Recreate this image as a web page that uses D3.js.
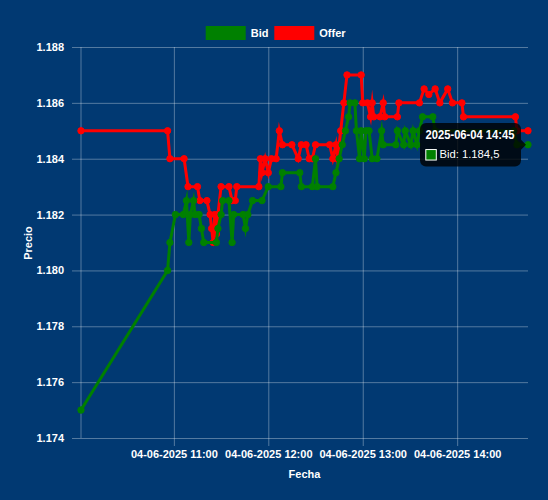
<!DOCTYPE html>
<html><head><meta charset="utf-8">
<script src="https://cdn.jsdelivr.net/npm/d3@7"></script>
<style>html,body{margin:0;padding:0;background:#013972;overflow:hidden}</style>
</head><body><svg id="c" width="548" height="500"></svg>
<script>
const dateStr = "2025-06-04";
const seriesNames = ["Bid", "Offer"];
const seriesColors = ["#008000", "#ff0000"];
const bidTimes = ["10:01:00","10:56:00","10:57:30","11:01:00","11:06:00","11:08:00","11:09:30","11:10:30","11:12:30","11:13:30","11:16:00","11:17:30","11:19:00","11:27:00","11:28:00","11:30:00","11:31:00","11:35:00","11:37:00","11:38:00","11:44:00","11:45:30","11:47:00","11:50:00","11:56:00","12:00:00","12:08:00","12:09:00","12:20:00","12:21:00","12:28:00","12:30:00","12:31:00","12:41:00","12:43:00","12:45:00","12:47:00","12:49:00","12:51:00","12:52:00","12:55:00","12:56:00","12:58:00","12:59:00","13:01:00","13:02:00","13:04:00","13:06:00","13:09:00","13:12:00","13:13:00","13:21:00","13:22:00","13:26:00","13:27:00","13:30:30","13:32:00","13:34:30","13:36:00","13:38:00","13:44:30","13:46:00","14:36:00","14:38:00","14:45:00"];
const bidValues = [1.1750,1.1800,1.1810,1.1820,1.1820,1.1825,1.1810,1.1820,1.1825,1.1820,1.1820,1.1815,1.1810,1.1810,1.1815,1.1820,1.1825,1.1825,1.1810,1.1820,1.1820,1.1815,1.1820,1.1825,1.1825,1.1830,1.1830,1.1835,1.1835,1.1830,1.1830,1.1840,1.1830,1.1830,1.1835,1.1840,1.1845,1.1850,1.1855,1.1860,1.1860,1.1850,1.1840,1.1850,1.1840,1.1850,1.1850,1.1840,1.1840,1.1850,1.1845,1.1845,1.1850,1.1845,1.1850,1.1845,1.1850,1.1845,1.1850,1.1855,1.1855,1.1850,1.1850,1.1845,1.1845];
const offerTimes = ["10:01:00","10:56:00","10:57:30","11:06:30","11:09:00","11:15:00","11:16:30","11:21:00","11:23:00","11:24:00","11:25:00","11:26:00","11:27:00","11:28:00","11:30:00","11:35:00","11:37:00","11:39:00","11:40:00","11:54:00","11:55:00","11:56:00","11:58:00","12:00:00","12:02:00","12:05:00","12:07:00","12:09:00","12:15:00","12:19:00","12:21:00","12:24:00","12:26:00","12:28:00","12:30:00","12:39:00","12:41:00","12:43:00","12:44:00","12:46:00","12:48:00","12:50:00","12:59:00","13:00:00","13:03:00","13:05:00","13:06:00","13:07:00","13:11:00","13:13:00","13:14:00","13:22:00","13:23:00","13:36:00","13:39:00","13:42:00","13:46:00","13:49:00","13:54:00","13:57:00","14:03:00","14:04:00","14:37:00","14:38:00","14:45:00"];
const offerValues = [1.1850,1.1850,1.1840,1.1840,1.1830,1.1830,1.1825,1.1825,1.1820,1.1815,1.1810,1.1820,1.1813,1.1820,1.1830,1.1830,1.1825,1.1825,1.1830,1.1830,1.1840,1.1835,1.1840,1.1835,1.1840,1.1840,1.1850,1.1845,1.1845,1.1840,1.1845,1.1845,1.1840,1.1840,1.1845,1.1845,1.1840,1.1845,1.1840,1.1850,1.1860,1.1870,1.1870,1.1860,1.1860,1.1855,1.1860,1.1855,1.1855,1.1860,1.1855,1.1855,1.1860,1.1860,1.1865,1.1863,1.1865,1.1860,1.1865,1.1860,1.1860,1.1855,1.1855,1.1850,1.1850];
const yTickValues = [1.174,1.176,1.178,1.180,1.182,1.184,1.186,1.188];
const xTickHours = ["11:00:00","12:00:00","13:00:00","14:00:00"];
const yTitle = "Precio";
const xTitle = "Fecha";
const tooltipSeries = 0;
const tooltipIndex = bidTimes.length - 1;

const parse = d3.timeParse("%Y-%m-%d %H:%M:%S");
const toDate = t => parse(dateStr + " " + t);
const series = [
  {name: seriesNames[0], color: seriesColors[0], data: bidTimes.map((t,i)=>({t: toDate(t), v: bidValues[i]}))},
  {name: seriesNames[1], color: seriesColors[1], data: offerTimes.map((t,i)=>({t: toDate(t), v: offerValues[i]}))}
];
const allT = series.flatMap(s=>s.data.map(d=>d.t));
const L = 81, R = 528, T = 47, B = 438;
const x = d3.scaleTime().domain(d3.extent(allT)).range([L, R]);
const y = d3.scaleLinear().domain([1.174, 1.188]).range([B, T]);
const font = "'Liberation Sans', Arial, Helvetica, sans-serif";
const textColor = "#ffffff";
const gridColor = "rgba(255,255,255,0.33)";
const lblFont = `bold 11px ${font}`;

const svg = d3.select("#c");
svg.append("rect").attr("width",548).attr("height",500).attr("fill","#013972");

// Y axis + grid
const gy = svg.append("g").attr("transform",`translate(${L},0)`)
  .call(d3.axisLeft(y).tickValues(yTickValues).tickFormat(d3.format(".3f")).tickSizeOuter(0).tickPadding(11));
gy.select(".domain").remove();
gy.selectAll(".tick line").attr("x1",-9).attr("x2",R-L).attr("stroke",gridColor);
gy.selectAll(".tick text").attr("fill",textColor).style("font",lblFont);

// X axis + grid
const gx = svg.append("g").attr("transform",`translate(0,${B})`)
  .call(d3.axisBottom(x).tickValues(xTickHours.map(toDate)).tickFormat(d3.timeFormat("%d-%m-%Y %H:%M")).tickSizeOuter(0));
gx.select(".domain").remove();
gx.selectAll(".tick line").attr("y1",-(B-T)).attr("y2",8).attr("stroke",gridColor);
gx.selectAll(".tick text").attr("fill",textColor).attr("y",12).style("font",lblFont);

// left border
svg.append("line").attr("x1",L).attr("x2",L).attr("y1",T).attr("y2",B).attr("stroke",gridColor);

// titles
svg.append("text").attr("x",304.5).attr("y",478).attr("text-anchor","middle").attr("fill",textColor)
  .style("font",lblFont).text(xTitle);
svg.append("text").attr("transform","translate(32,243) rotate(-90)").attr("text-anchor","middle").attr("fill",textColor)
  .style("font",lblFont).text(yTitle);

// Legend
const legX = [205.7, 274.3];
series.forEach((s,i)=>{
  svg.append("rect").attr("x",legX[i]).attr("y",26).attr("width",40).attr("height",14).attr("fill",s.color);
  svg.append("text").attr("x",legX[i]+45).attr("y",36.5).attr("fill",textColor).style("font",lblFont).text(s.name);
});

// Lines: draw in reverse order so first dataset is on top
const line = d3.line().x(d=>x(d.t)).y(d=>y(d.v));
series.slice().reverse().forEach(s=>{
  const g = svg.append("g");
  g.append("path").datum(s.data).attr("d",line).attr("fill","none").attr("stroke",s.color)
    .attr("stroke-width",3).attr("stroke-linejoin","miter").attr("stroke-miterlimit",10);
  g.selectAll("circle").data(s.data).join("circle").attr("cx",d=>x(d.t)).attr("cy",d=>y(d.v))
    .attr("r",3.2).attr("fill",s.color).attr("stroke",s.color).attr("stroke-width",1);
});

// Tooltip
const tp = series[tooltipSeries].data[tooltipIndex];
const px = x(tp.t), py = y(tp.v);
const tw = 101, th = 43.4;
const bx = px - 2 - 5 - tw, by = py - th/2;
const tg = svg.append("g");
tg.append("rect").attr("x",bx).attr("y",by).attr("width",tw).attr("height",th).attr("rx",6).attr("fill","rgba(0,0,0,0.8)");
tg.append("path").attr("d",`M${bx+tw},${py-5}L${bx+tw+5},${py}L${bx+tw},${py+5}Z`).attr("fill","rgba(0,0,0,0.8)");
tg.append("text").attr("x",bx+5.5).attr("y",by+16).attr("fill","#fff").style("font",`bold 12.5px ${font}`)
  .attr("textLength",89).attr("lengthAdjust","spacingAndGlyphs")
  .text(d3.timeFormat("%Y-%m-%d %H:%M")(tp.t));
tg.append("rect").attr("x",bx+5.8).attr("y",by+26.5).attr("width",10.5).attr("height",10.5)
  .attr("fill",series[tooltipSeries].color).attr("stroke","#fff").attr("stroke-width",1);
const esLocale = d3.formatLocale({decimal:",", thousands:".", grouping:[3], currency:["",""]});
tg.append("text").attr("x",bx+19.5).attr("y",by+35.3).attr("fill","#fff").style("font",`11.5px ${font}`)
  .attr("textLength",60).attr("lengthAdjust","spacingAndGlyphs")
  .text(series[tooltipSeries].name + ": " + esLocale.format(",.1f")(tp.v*1000));
</script></body></html>
